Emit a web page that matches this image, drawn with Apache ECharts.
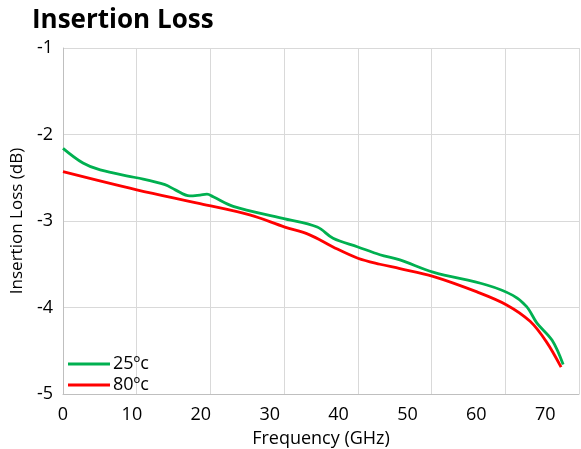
<!DOCTYPE html>
<html>
<head>
<meta charset="utf-8">
<script src="https://cdn.jsdelivr.net/npm/echarts@6/dist/echarts.min.js"></script>
<style>
  html, body { margin: 0; padding: 0; background: #fff; }
  #chart { width: 581px; height: 449px; }
</style>
</head>
<body>
<div id="chart"></div>
<script>
// Insertion loss vs frequency
var freq25 = [0, 2.9, 5.4, 10.7, 14.8, 16.3, 18.4, 19.9, 20.9, 21.8, 24.7, 31.9, 36.9, 39.2, 42.8, 46.0, 48.9, 53.7, 61.5, 65.3, 67.3, 68.8, 71.0, 72.6]
var loss25 = [-2.16, -2.33, -2.41, -2.50, -2.58, -2.64, -2.71, -2.70, -2.69, -2.72, -2.83, -2.97, -3.07, -3.20, -3.30, -3.39, -3.45, -3.59, -3.74, -3.86, -3.99, -4.18, -4.38, -4.66]
var freq80 = [0, 10.7, 19.9, 27.1, 32.2, 35.8, 39.2, 42.8, 46.0, 48.9, 53.7, 60.1, 64.4, 67.8, 70.2, 72.3]
var loss80 = [-2.43, -2.64, -2.80, -2.93, -3.07, -3.16, -3.30, -3.43, -3.50, -3.55, -3.64, -3.82, -3.97, -4.16, -4.40, -4.69]
var seriesNames = ['25ºc', '80ºc']
var seriesColors = ['#00b050', '#ff0000']

function pairs(xs, ys) {
  return xs.map(function(x, i) { return [x, ys[i]] })
}

var chart = echarts.init(document.getElementById('chart'))
var font = '"Open Sans", "Noto Sans", sans-serif'

chart.setOption({
  backgroundColor: '#fff',
  animation: false,
  textStyle: { fontFamily: font },
  title: {
    text: 'Insertion Loss',
    left: 27,
    top: 3,
    textStyle: { fontSize: 26, fontWeight: 'bold', color: '#000', fontFamily: font }
  },
  legend: {
    orient: 'vertical',
    left: 63,
    top: 350,
    itemGap: 3,
    itemWidth: 42,
    itemHeight: 3,
    icon: 'rect',
    data: seriesNames,
    textStyle: { fontSize: 18, color: '#000', padding: [0, 0, 0, -2] }
  },
  grid: {
    left: 63,
    right: 2,
    top: 48,
    bottom: 55,
    containLabel: false,
    outerBoundsMode: 'none'
  },
  xAxis: [
    {
      type: 'value',
      min: 0,
      max: 74.9,
      interval: 10,
      name: 'Frequency (GHz)',
      nameLocation: 'middle',
      nameGap: 36,
      nameTextStyle: { fontSize: 18, color: '#000' },
      axisLine: { show: true, lineStyle: { color: '#bfbfbf', width: 1 } },
      axisTick: { show: false },
      splitLine: { show: false },
      axisLabel: {
        fontSize: 18,
        color: '#000',
        margin: 12,
        showMaxLabel: false,
        formatter: function(v) { return v % 10 === 0 ? v : '' }
      }
    },
    {
      // gridlines in the reference sit on their own spacing
      type: 'value',
      min: 0,
      max: 7,
      interval: 1,
      position: 'bottom',
      axisLine: { show: false },
      axisTick: { show: false },
      axisLabel: { show: false },
      splitLine: { show: true, lineStyle: { color: '#d9d9d9', width: 1 } }
    }
  ],
  yAxis: {
    type: 'value',
    min: -5,
    max: -1,
    interval: 1,
    name: 'Insertion Loss (dB)',
    nameLocation: 'middle',
    nameGap: 37,
    nameTextStyle: { fontSize: 17, color: '#000' },
    axisLine: { show: true, lineStyle: { color: '#bfbfbf', width: 1 } },
    axisTick: { show: false },
    splitLine: { show: true, lineStyle: { color: '#d9d9d9', width: 1 } },
    axisLabel: { fontSize: 18, color: '#000', margin: 10 }
  },
  series: [
    {
      name: seriesNames[0],
      type: 'line',
      xAxisIndex: 0,
      data: pairs(freq25, loss25),
      smooth: 0.35,
      showSymbol: false,
      color: seriesColors[0],
      lineStyle: { width: 2.8, color: seriesColors[0] }
    },
    {
      name: seriesNames[1],
      type: 'line',
      xAxisIndex: 0,
      data: pairs(freq80, loss80),
      smooth: 0.35,
      showSymbol: false,
      color: seriesColors[1],
      lineStyle: { width: 2.8, color: seriesColors[1] }
    }
  ]
})
</script>
</body>
</html>
